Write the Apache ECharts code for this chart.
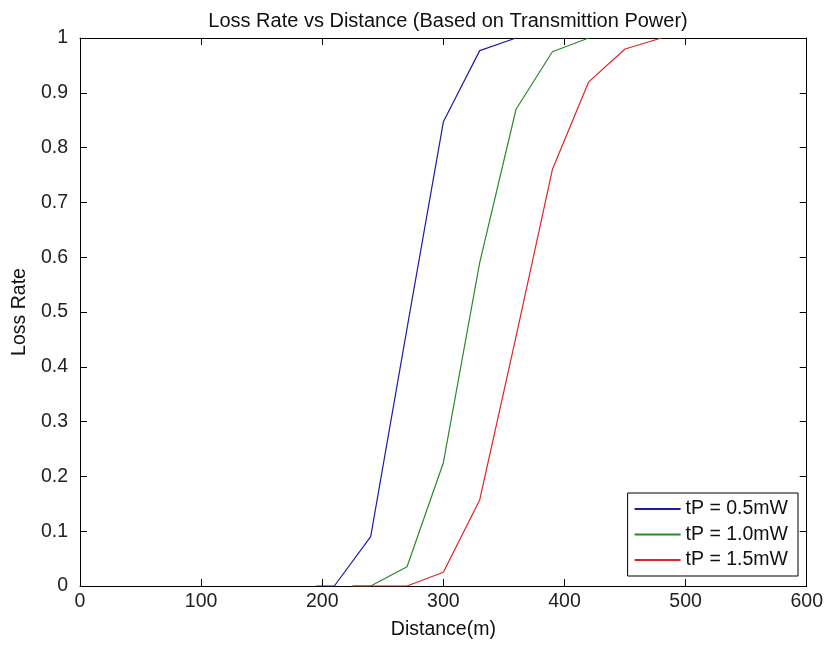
<!DOCTYPE html>
<html>
<head>
<meta charset="utf-8">
<script src="https://cdn.jsdelivr.net/npm/echarts@6/dist/echarts.min.js"></script>
<style>
html,body{margin:0;padding:0;background:#fff;}
#chart{width:826px;height:645px;}
</style>
</head>
<body>
<div id="chart"></div>
<script>
const seriesNames = ['tP = 0.5mW', 'tP = 1.0mW', 'tP = 1.5mW'];
const distance05 = [195, 210, 240, 270, 300, 330, 360];
const loss05     = [0, 0, 0.09, 0.47, 0.847, 0.977, 1];
const distance10 = [225, 240, 270, 300, 330, 360, 390, 420];
const loss10     = [0, 0, 0.035, 0.225, 0.59, 0.87, 0.975, 1];
const distance15 = [225, 270, 300, 330, 360, 390, 420, 450, 480];
const loss15     = [0, 0, 0.025, 0.157, 0.455, 0.76, 0.92, 0.98, 1];
const xTicks = [0, 100, 200, 300, 400, 500, 600];
const yTicks = [0, 0.1, 0.2, 0.3, 0.4, 0.5, 0.6, 0.7, 0.8, 0.9, 1];
const colors = ['#1c1ca8', '#2a8a2a', '#e02424'];

const pairs = (xs, ys) => xs.map((x, i) => [x, ys[i]]);
const font = 'Liberation Sans, Arial, sans-serif';
const fs = 19.5;

const chart = echarts.init(document.getElementById('chart'), null, {renderer: 'canvas'});
const baseAxis = {
  axisLine: {show: true, onZero: false, lineStyle: {color: '#000', width: 1}},
  axisTick: {show: true, inside: true, length: 7, lineStyle: {color: '#000'}},
  splitLine: {show: false}
};
chart.setOption({
  animation: false,
  backgroundColor: '#fff',
  title: {
    text: 'Loss Rate vs Distance (Based on Transmittion Power)',
    left: 443, top: 6, textAlign: 'center',
    textStyle: {fontFamily: font, fontSize: 20, fontWeight: 'normal', color: '#111'}
  },
  grid: {left: 80, top: 38, right: 19, bottom: 59, containLabel: false},
  legend: {
    orient: 'vertical',
    right: 28, bottom: 69,
    data: seriesNames,
    backgroundColor: '#fff',
    borderColor: '#000', borderWidth: 1,
    padding: [6, 10, 6, 7],
    itemGap: 5.5,
    itemWidth: 46, itemHeight: 2,
    icon: 'rect',
    textStyle: {fontFamily: font, fontSize: fs, color: '#111', padding: [0, 0, 0, 0]}
  },
  xAxis: [
    Object.assign({}, baseAxis, {
      type: 'value', min: xTicks[0], max: xTicks[xTicks.length - 1], interval: 100,
      name: 'Distance(m)', nameLocation: 'middle', nameGap: 34,
      nameTextStyle: {fontFamily: font, fontSize: fs, color: '#111'},
      axisLabel: {fontFamily: font, fontSize: fs, color: '#222', margin: 6}
    }),
    Object.assign({}, baseAxis, {
      type: 'value', position: 'top', min: xTicks[0], max: xTicks[xTicks.length - 1], interval: 100,
      axisLabel: {show: false}
    })
  ],
  yAxis: [
    Object.assign({}, baseAxis, {
      type: 'value', min: yTicks[0], max: yTicks[yTicks.length - 1], interval: 0.1,
      name: 'Loss Rate', nameLocation: 'middle', nameGap: 50, nameRotate: 90,
      nameTextStyle: {fontFamily: font, fontSize: fs, color: '#111'},
      axisLabel: {fontFamily: font, fontSize: fs, color: '#222', margin: 12,
        formatter: v => (Math.round(v * 10) / 10).toString()}
    }),
    Object.assign({}, baseAxis, {
      type: 'value', position: 'right', min: yTicks[0], max: yTicks[yTicks.length - 1], interval: 0.1,
      axisLabel: {show: false}
    })
  ],
  series: [
    {name: seriesNames[0], type: 'line', data: pairs(distance05, loss05), showSymbol: false,
     color: colors[0], lineStyle: {width: 1.2, color: colors[0]}, z: 3},
    {name: seriesNames[1], type: 'line', data: pairs(distance10, loss10), showSymbol: false,
     color: colors[1], lineStyle: {width: 1.2, color: colors[1]}, z: 4},
    {name: seriesNames[2], type: 'line', data: pairs(distance15, loss15), showSymbol: false,
     color: colors[2], lineStyle: {width: 1.2, color: colors[2]}, z: 5}
  ]
});
</script>
</body>
</html>
